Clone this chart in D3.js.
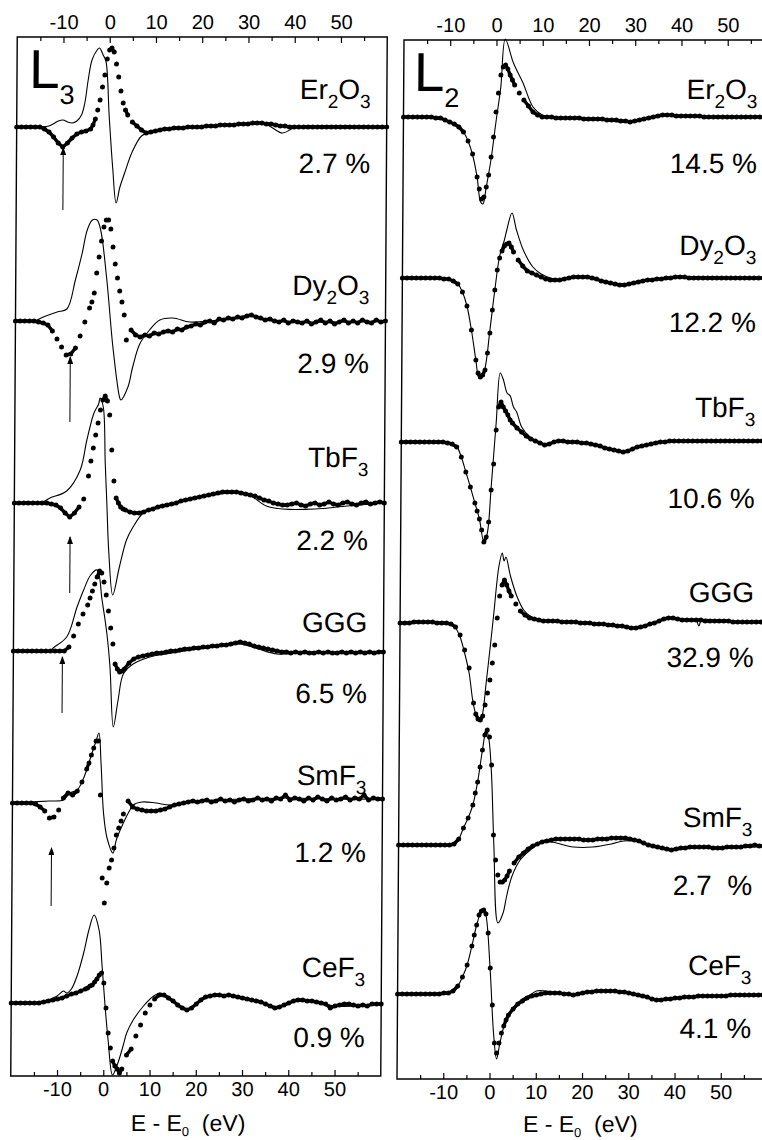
<!DOCTYPE html>
<html>
<head>
<meta charset="utf-8">
<script src="https://cdn.jsdelivr.net/npm/d3@7"></script>
<style>
  body { margin: 0; background: #fff; }
  svg { display: block; }
  text { font-family: "Liberation Sans", Arial, Helvetica, sans-serif; fill: #000; }
</style>
</head>
<body>
<div id="chart"></div>
<script>
// energy grid of the measured points, E - E0 in eV
var energy = [
  -20,-19,-18,-17,-16,-15,-14,-13,-12,-11,-10,-9,-8,-7,-6,-5,-4,
  -3.5,-3,-2.5,-2,-1.5,-1,-0.5,0,0.5,1,1.5,2,2.5,3,3.5,
  4,5,6,7,8,9,10,11,12,13,14,15,16,17,18,19,20,21,22,23,24,25,26,27,28,29,30,
  31,32,33,34,35,36,37,38,39,40,41,42,43,44,45,46,47,48,49,50,51,52,53,54,55,56,57,58,59,60
];

var samples = ["Er2O3", "Dy2O3", "TbF3", "GGG", "SmF3", "CeF3"];
var l3Percent = ["2.7 %", "2.9 %", "2.2 %", "6.5 %", "1.2 %", "0.9 %"];
var l2Percent = ["14.5 %", "12.2 %", "10.6 %", "32.9 %", "2.7  %", "4.1 %"];

// vertical offset of each spectrum (arbitrary units)
var l3Offset = [949, 755, 573, 425, 273, 73];
var l2Offset = [962, 801, 637, 456, 234, 86];

var tickMajor = [-10, 0, 10, 20, 30, 40, 50];
var tickMinor = [-15, -5, 5, 15, 25, 35, 45, 55];

// ---- L3 edge, measured (dots), values on the energy grid ----
var l3Er2O3Exp = [
  0,0,0,0,0,0,-2,-5,-10,-16,-20,-16,-11,-7,-5,-4,-2,
  2,8,17,27,40,52,68,77,79,75,63,50,36,24,17,
  12,5,1,-3,-6,-5,-4,-3,-2,-2,-1,-1,-1,0,0,0,0,1,1,1,2,2,2,2,3,3,3,4,4,4,3,3,2,1,1,0,
  0,0,0,0,0,0,0,0,0,0,0,0,0,0,0,0,0,0,0,0,0
];
var l3Dy2O3Exp = [
  0,0,0,0,0,-1,-2,-4,-10,-18,-26,-34,-33,-27,-15,-1,13,
  19,28,48,64,80,94,101,101,92,74,57,43,30,19,6,
  -19,-9,-14,-16,-14,-15,-12,-13,-11,-10,-11,-8,-9,-6,-5,-3,-4,-1,0,-2,2,1,3,2,4,3,5,6,4,3,1,2,0,-1,1,-2,
  0,-1,-2,0,-3,-1,1,-2,0,-3,-1,1,-2,0,-2,1,-1,-2,1,-1,0
];
var l3TbF3Exp = [
  0,0,0,0,0,0,0,0,-1,-2,-5,-10,-14,-10,-4,4,27,
  42,55,68,80,93,103,107,102,88,53,22,5,0,-4,-6,
  -7,-9,-10,-10,-9,-7,-6,-4,-3,-2,-1,0,2,3,4,5,6,7,8,9,10,11,11,11,11,10,9,8,7,5,3,2,0,-1,-2,-2,
  -1,0,-2,-3,-1,0,-2,-1,1,-1,-2,0,1,-1,-2,0,1,-1,0,1,0
];
var l3GGGExp = [
  0,0,0,0,0,0,0,0,0,0,0,0,4,15,27,37,46,
  53,60,67,74,80,78,69,56,40,23,7,-13,-18,-21,-20,
  -18,-12,-8,-6,-5,-4,-3,-2,-2,-1,0,0,1,2,2,3,3,4,4,5,5,6,6,7,8,9,8,7,5,4,3,2,1,0,-1,-1,
  -2,-1,-2,-1,-2,-2,-1,-2,-1,-2,-2,-1,-2,-1,-2,-1,-2,-1,-2,-1,-1
];
var l3SmF3Exp = [
  0,0,0,0,0,-1,-4,-8,-15,-14,-7,5,10,8,12,21,34,
  40,48,55,62,62,8,-75,-100,-80,-65,-57,-45,-32,-25,-18,
  -11,2,-4,-6,-7,-8,-8,-8,-7,-6,-4,-2,-1,0,1,2,1,2,3,1,2,4,2,3,1,3,4,2,3,5,3,4,2,5,4,8,
  3,5,4,2,5,3,6,4,2,5,3,4,6,3,5,4,8,3,5,4,4
];
var l3CeF3Exp = [
  0,0,0,0,0,0,0,1,2,3,4,5,7,9,10,12,14,
  15,17,18,21,24,28,30,20,-5,-30,-45,-58,-63,-66,-70,
  -66,-52,-46,-33,-22,-10,-2,4,8,8,5,2,-2,-5,-7,-5,-1,3,6,7,8,8,7,8,7,6,5,4,3,2,1,-1,-3,-5,-4,-2,
  0,2,3,3,2,2,1,0,-1,-5,-3,-2,-1,-1,-2,-3,-2,-3,-1,-1,-1
];

// ---- L3 edge, calculated (thin line), [E, value] ----
var l3Er2O3Calc = [[-20,0],[-15,0],[-13,1],[-11,6],[-10,7],[-9,5],[-8,4],[-7,6],[-6,12],[-5.3,24],[-4.6,47],
  [-3.8,67],[-2.7,77],[-2.2,79],[-1.4,72],[-0.8,66],[0,10],[0.8,-40],[1.6,-76],[2.4,-60],[3.4,-46],[5,-25],
  [7,-9],[8.5,-6],[12,-2],[20,0],[28,3],[33,4],[35,0],[37.5,-6],[40.5,0],[60,0]];
var l3Dy2O3Calc = [[-20,0],[-16,0],[-14,4],[-11,9],[-8.9,12],[-7.1,41],[-5.7,67],[-4.6,91],[-3.5,101],
  [-2.5,101],[-1.7,91],[-0.3,41],[1.1,-26],[2.6,-76],[2.9,-79],[4.4,-66],[5.4,-46],[6.9,-23],[9,-9],
  [11.2,1],[14,3],[17.7,-1],[22,0],[27,3],[31,6],[34,1],[40,-1],[50,-1],[60,0]];
var l3TbF3Calc = [[-20,0],[-14,1],[-12.3,5],[-8.7,12],[-5.8,33],[-4.4,63],[-2.9,90],[-1.9,99],[-1.6,105],
  [-0.9,96],[-0.4,40],[0,0],[0.5,-50],[1.4,-92],[2.8,-64],[4.3,-37],[5.7,-24],[7.9,-10],[10.8,-4],
  [14,-1],[18,3],[22,7],[27,10],[31,7],[34.5,-3],[38,-6],[45,-6],[52,-3],[60,0]];
var l3GGGCalc = [[-20,0],[-12,0],[-11.4,3],[-8.5,14],[-6.3,44],[-4.9,61],[-3.4,76],[-2,81],[-0.9,51],
  [0.2,17],[0.9,-16],[1.7,-76],[2.7,-49],[3.8,-23],[5.9,-13],[9.5,-6],[13,-3],[20,2],[27,6],[29,7],
  [33,2],[37,-3],[42,-2],[60,-1]];
var l3SmF3Calc = [[-20,0],[-16,1],[-12,2],[-9,3],[-7.6,10],[-6,13],[-5,21],[-4,33],[-3,48],[-2,62],
  [-1.4,70],[-0.9,40],[-0.3,-10],[0.5,-35],[1.8,-50],[2.5,-37],[4,-20],[5.4,-7],[6.1,-2],[8,1],
  [11,0],[14,-2],[17,0],[20,2],[30,4],[40,5],[50,4],[60,4]];
var l3CeF3Calc = [[-20,0],[-14,0],[-10.1,7],[-8.7,12],[-8,10],[-7,14],[-5.8,27],[-4.4,50],[-3.3,73],
  [-2.2,88],[-1.1,73],[-0.4,37],[0.3,-3],[1,-37],[2,-72],[3,-62],[4.3,-42],[5,-30],[6.4,-17],[8.6,-3],
  [10.8,7],[12.2,10],[14,6],[17,-4],[18.5,-6],[21,3],[24,8],[28,7],[32,3],[36,-2],[38,-4],[42,2],
  [46,1],[50,-3],[55,-3],[60,-1]];

// ---- L2 edge, measured ----
var l2Er2O3Exp = [
  0,0,0,0,0,0,0,-1,-1,-3,-5,-7,-10,-15,-24,-37,-60,
  -72,-82,-80,-70,-58,-40,-20,5,24,42,50,52,48,42,37,
  32,24,17,11,5,2,0,0,0,-1,-1,-1,-1,-1,-1,-2,-2,-2,-2,-2,-3,-3,-3,-4,-4,-5,-4,-3,-2,-1,0,1,2,2,2,1,
  1,1,1,1,1,0,0,0,0,0,0,0,0,0,0,0,0,0,0,0,0
];
var l2Dy2O3Exp = [
  0,0,0,0,0,0,0,0,0,-1,-1,-3,-6,-14,-28,-52,-82,
  -95,-99,-97,-92,-75,-55,-32,-12,8,20,27,32,34,35,31,
  26,18,12,7,5,3,1,-1,-2,-2,-2,-1,0,1,1,1,1,0,-1,-3,-4,-5,-6,-7,-7,-6,-5,-4,-3,-2,-2,-1,-1,0,0,1,
  1,1,0,0,0,0,0,0,0,0,0,0,0,0,0,0,0,0,0,0,0
];
var l2TbF3Exp = [
  0,0,0,0,0,0,0,0,0,0,-1,-2,-5,-15,-30,-45,-61,
  -69,-77,-88,-100,-95,-80,-48,-22,12,35,40,35,31,27,22,
  19,14,10,6,3,1,-1,-3,-2,0,1,1,0,0,0,-1,-1,-2,-3,-4,-6,-7,-8,-9,-10,-9,-7,-5,-4,-3,-2,-1,0,0,1,1,
  1,1,1,1,1,1,1,1,1,1,1,1,1,1,1,1,1,1,1,1,1
];
var l2GGGExp = [
  0,0,0,1,1,1,1,1,0,0,0,-1,-4,-12,-27,-45,-80,
  -91,-96,-97,-93,-82,-70,-57,-40,-22,5,27,38,43,38,32,
  27,19,12,8,5,4,3,2,2,2,2,1,1,1,1,0,0,0,-1,-1,-1,-2,-2,-3,-3,-4,-5,-5,-4,-3,-1,0,2,4,5,5,
  4,3,3,3,3,3,2,2,2,2,2,2,1,1,1,1,1,1,1,1,1
];
var l2SmF3Exp = [
  0,0,0,0,0,0,0,0,0,0,0,0,1,6,17,27,40,
  52,63,78,95,110,115,108,80,10,-15,-30,-37,-37,-35,-31,
  -26,-18,-12,-8,-4,-1,1,3,4,5,6,6,6,6,6,6,5,5,5,6,6,6,7,7,7,7,6,5,4,2,0,-1,-2,-3,-4,-5,
  -4,-3,-3,-2,-2,-2,-2,-2,-3,-3,-3,-2,-2,-2,-2,-1,-1,0,-1,-1,-1
];
var l2CeF3Exp = [
  -1,-1,-1,-1,-1,-1,-1,-1,-1,-1,0,0,2,7,16,28,47,
  58,68,78,82,83,79,60,25,-12,-50,-60,-50,-40,-33,-27,
  -22,-16,-11,-8,-5,-3,-2,-1,0,0,0,0,-1,-1,-2,-1,0,1,1,2,2,2,2,2,1,1,0,-1,-2,-3,-4,-6,-7,-7,-6,-6,
  -5,-5,-4,-4,-4,-3,-3,-3,-3,-3,-3,-3,-2,-2,-2,-2,-2,-2,-2,-2,-2
];

// ---- L2 edge, calculated ----
var l2Er2O3Calc = [[-20,0],[-13,-1],[-10,-5],[-8,-10],[-7,-15],[-6,-24],[-5,-38],[-4,-60],[-3.2,-85],
  [-2.7,-87],[-2,-70],[-1,-42],[0,-5],[1,30],[1.9,78],[3.7,54],[5.8,34],[8,10],[10,2],[12,0],[20,-2],
  [29,-5],[34,0],[37,2],[45,0],[60,0]];
var l2Dy2O3Calc = [[-20,0],[-10,-1],[-8,-6],[-7,-14],[-6,-28],[-5,-52],[-4,-82],[-3.3,-100],[-2.8,-100],
  [-2,-90],[-1,-52],[0,-12],[1,22],[2,38],[2.5,48],[3.6,65],[4.6,48],[6.1,28],[8.2,11],[10,4],[12,0],
  [14,-2],[18,1],[20,1],[24,-4],[27.5,-7],[31,-3],[35,-1],[40,1],[60,0]];
var l2TbF3Calc = [[-20,0],[-10,-1],[-8,-5],[-7,-15],[-6,-30],[-5,-45],[-4,-61],[-3,-77],[-2,-100],
  [-1.3,-92],[-0.5,-45],[0.5,20],[1.3,69],[2,62],[2.8,49],[3.5,46],[4.2,35],[4.9,30],[6,15],[7.8,5],
  [9,1],[11,-3],[13,0],[17,0],[21,-2],[25,-7],[28,-10],[31,-5],[35,-1],[40,1],[60,1]];
var l2GGGCalc = [[-20,0],[-12,1],[-9,-1],[-8,-5],[-7,-14],[-6,-30],[-5,-50],[-4,-82],[-3,-97],
  [-2.5,-98],[-2,-90],[-1.3,-60],[-0.5,-25],[0.2,7],[1.3,57],[2,70],[2.4,62],[2.8,66],[3.8,47],
  [5.2,27],[6.7,13],[8.1,7],[10,3],[15,1],[21,0],[27,-3],[31,-5],[35,0],[38,5],[42,3],[44,3],
  [44.6,-3],[45.2,3],[50,2],[60,1]];
var l2SmF3Calc = [[-20,0],[-9,0],[-8,1],[-7,6],[-6,17],[-5,27],[-4,40],[-3,63],[-2,95],[-1.2,116],
  [-0.6,105],[0,70],[0.6,0],[1.6,-78],[2.7,-68],[3.4,-52],[4.5,-32],[6.3,-15],[8.5,-5],[10.6,2],
  [13,3],[17.8,-2],[22,-2],[26,1],[28.6,4],[31,4],[34,0],[39,-5],[45,-2],[50,-3],[60,-1]];
var l2CeF3Calc = [[-20,-1],[-10,0],[-9,0],[-8,2],[-7,7],[-6,16],[-5,28],[-4,47],[-3,68],[-2,82],
  [-1.5,84],[-1,78],[0,22],[0.8,-40],[1.5,-66],[2.2,-50],[3,-34],[4,-22],[5,-15],[7,-6],[9,-1],
  [10,2],[12,2],[15,0],[18,-1],[21,1],[25,2],[29,1],[32,-2],[36,-7],[40,-5],[45,-3],[50,-3],[60,-2]];

// pre-edge features marked with arrows on the L3 panel
var arrowSample = [0, 1, 2, 3, 4];
var arrowEnergy = [-9.9, -8.1, -7.9, -9.4, -11.5];
var arrowTip = [-21, -36, -34, -6, -45];
var arrowTail = [-83, -101, -90, -62, -103];

// ------------------------------------------------------------------
var W = 762, H = 1140;
var pw = 370, ph = 1039;

var svg = d3.select("#chart")
    .append("svg")
    .attr("width", W)
    .attr("height", H);

svg.append("defs").append("marker")
    .attr("id", "head")
    .attr("markerUnits", "userSpaceOnUse")
    .attr("markerWidth", 8)
    .attr("markerHeight", 6)
    .attr("refX", 7)
    .attr("refY", 3)
    .attr("orient", "auto")
    .append("path")
    .attr("d", "M0,0L8,3L0,6Z")
    .attr("fill", "#000");

var panels = [
    {
        edge: "L", edgeSub: "3", left: 14, top: 37, skew: -0.358,
        offsets: l3Offset, percent: l3Percent,
        exp: [l3Er2O3Exp, l3Dy2O3Exp, l3TbF3Exp, l3GGGExp, l3SmF3Exp, l3CeF3Exp],
        calc: [l3Er2O3Calc, l3Dy2O3Calc, l3TbF3Calc, l3GGGCalc, l3SmF3Calc, l3CeF3Calc],
        nameY: [977, 781, 609, 444, 291, 99],
        pctY: [903, 703, 526, 373, 214, 29],
        labelX: 12, titleE: 18.4, titleDy: 55, arrows: true
    },
    {
        edge: "L", edgeSub: "2", left: 400.5, top: 40, skew: -0.386,
        offsets: l2Offset, percent: l2Percent,
        exp: [l2Er2O3Exp, l2Dy2O3Exp, l2TbF3Exp, l2GGGExp, l2SmF3Exp, l2CeF3Exp],
        calc: [l2Er2O3Calc, l2Dy2O3Calc, l2TbF3Calc, l2GGGCalc, l2SmF3Calc, l2CeF3Calc],
        nameY: [980, 824, 662, 477, 252, 104],
        pctY: [906, 747, 571, 412, 184, 41],
        labelX: 10, titleE: 19.7, titleDy: 53, arrows: false
    }
];

panels.forEach(drawPanel);

function drawPanel(p) {
    var g = svg.append("g")
        .attr("transform", "translate(" + (p.left + pw / 2) + "," + (p.top + ph / 2) + ") skewX(" + p.skew + ") translate(" + (-pw / 2) + "," + (-ph / 2) + ")");

    var x = d3.scaleLinear().domain([-20, 60]).range([0, pw]);
    var y = d3.scaleLinear().domain([0, ph]).range([ph, 0]);

    // frame
    g.append("rect")
        .attr("width", pw)
        .attr("height", ph)
        .attr("fill", "none")
        .attr("stroke", "#000")
        .attr("stroke-width", 1.4);

    // axes, ticks pointing inwards
    var fmt = function (d) { return String(d); };
    g.append("g")
        .attr("transform", "translate(0," + ph + ")")
        .call(d3.axisBottom(x).tickValues(tickMajor).tickFormat(fmt).tickSize(-6).tickPadding(6));
    g.append("g")
        .call(d3.axisTop(x).tickValues(tickMajor).tickFormat(fmt).tickSize(-6).tickPadding(8));
    g.append("g")
        .attr("transform", "translate(0," + ph + ")")
        .call(d3.axisBottom(x).tickValues(tickMinor).tickFormat("").tickSize(-4));
    g.append("g")
        .call(d3.axisTop(x).tickValues(tickMinor).tickFormat("").tickSize(-4));
    g.selectAll(".domain").remove();
    g.selectAll(".tick line").attr("stroke", "#000").attr("stroke-width", 1.2);
    g.selectAll(".tick text")
        .attr("font-size", 20)
        .attr("font-family", "Liberation Sans, Arial, sans-serif")
        .attr("fill", "#000");

    // axis title
    var title = g.append("text")
        .attr("x", x(p.titleE))
        .attr("y", ph + p.titleDy)
        .attr("text-anchor", "middle")
        .attr("font-size", 23)
        .style("white-space", "pre");
    title.append("tspan").text("E - E");
    title.append("tspan").attr("font-size", 13).attr("dy", 5).text("0");
    title.append("tspan").attr("dy", -5).text("  (eV)");

    // edge label
    var edge = g.append("text")
        .attr("x", p.labelX)
        .attr("y", 51)
        .attr("font-size", 55);
    edge.append("tspan").text(p.edge);
    edge.append("tspan").attr("font-size", 27).attr("dy", 16).text(p.edgeSub);

    var line = d3.line()
        .x(function (d) { return x(d[0]); })
        .y(function (d) { return d[1]; })
        .curve(d3.curveCatmullRom.alpha(0.5));

    samples.forEach(function (name, i) {
        var off = p.offsets[i];

        // calculated spectrum
        g.append("path")
            .datum(p.calc[i].map(function (d) { return [d[0], y(off + d[1])]; }))
            .attr("fill", "none")
            .attr("stroke", "#000")
            .attr("stroke-width", 1.1)
            .attr("d", line);

        // measured spectrum: dense dots merge into a heavy trace where it is flat
        var pts = p.exp[i].map(function (v, k) { return { e: energy[k], v: v }; })
            .filter(function (d) { return d.e !== undefined; });
        var segs = d3.pairs(pts).filter(function (s) {
            return Math.abs(y(off + s[0].v) - y(off + s[1].v)) <= 6;
        });
        g.append("g")
            .selectAll("line")
            .data(segs)
            .join("line")
            .attr("x1", function (s) { return x(s[0].e); })
            .attr("y1", function (s) { return y(off + s[0].v); })
            .attr("x2", function (s) { return x(s[1].e); })
            .attr("y2", function (s) { return y(off + s[1].v); })
            .attr("stroke", "#000")
            .attr("stroke-width", 3.4)
            .attr("stroke-linecap", "round");
        g.append("g")
            .selectAll("circle")
            .data(pts)
            .join("circle")
            .attr("cx", function (d) { return x(d.e); })
            .attr("cy", function (d) { return y(off + d.v); })
            .attr("r", 2.5)
            .attr("fill", "#000");

        // sample name with subscripted digits
        var t = g.append("text")
            .attr("x", x(56.5))
            .attr("y", y(p.nameY[i]))
            .attr("text-anchor", "end")
            .attr("font-size", 28);
        var shift = 0;
        name.split(/(\d)/).filter(function (s) { return s; }).forEach(function (s) {
            var sub = /\d/.test(s);
            var dy = (sub ? 9 : 0) - shift;
            shift = sub ? 9 : 0;
            t.append("tspan").attr("dy", dy).attr("font-size", sub ? 19 : 28).text(s);
        });

        g.append("text")
            .attr("x", x(56.5))
            .attr("y", y(p.pctY[i]))
            .attr("text-anchor", "end")
            .attr("font-size", 28)
            .style("white-space", "pre")
            .text(p.percent[i]);
    });

    if (p.arrows) {
        arrowSample.forEach(function (s, j) {
            var off = p.offsets[s];
            g.append("line")
                .attr("x1", x(arrowEnergy[j]))
                .attr("x2", x(arrowEnergy[j]))
                .attr("y1", y(off + arrowTail[j]))
                .attr("y2", y(off + arrowTip[j]))
                .attr("stroke", "#000")
                .attr("stroke-width", 1)
                .attr("marker-end", "url(#head)");
        });
    }
}
</script>
</body>
</html>
